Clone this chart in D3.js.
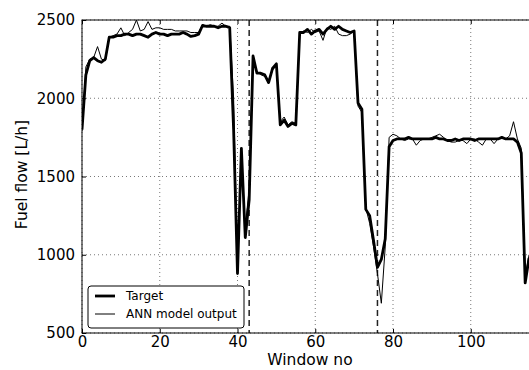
<!DOCTYPE html>
<html lang="en">
  <head>
    <meta charset="utf-8" />
    <title>Fuel flow</title>
    <script type="text/javascript" src="https://cdn.jsdelivr.net/npm/d3@7"></script>
    <style type="text/css">
      body { margin: 0; background: #fff; }
      text { font-family: "DejaVu Sans", sans-serif; }
    </style>
  </head>
  <body>
    <script type="text/javascript">
      // target fuel flow per window
      var target = [
        1800, 2150, 2240, 2260, 2240, 2230, 2250, 2390, 2390, 2400,
        2400, 2410, 2410, 2400, 2410, 2410, 2400, 2390, 2410, 2420,
        2410, 2410, 2400, 2410, 2410, 2410, 2420, 2410, 2395, 2400,
        2410, 2465, 2460, 2460, 2460, 2450, 2460, 2460, 2450, 1800,
        880, 1680, 1110, 1350, 2270, 2160, 2160, 2150, 2100, 2190,
        2220, 1830, 1860, 1820, 1840, 1830, 2420, 2420, 2440, 2410,
        2430, 2440, 2410, 2440, 2460, 2440, 2460, 2440, 2430, 2420,
        2430, 1970, 1930, 1290, 1250, 1090, 920, 970, 1100, 1690,
        1730, 1740, 1740, 1740, 1750, 1740, 1740, 1740, 1740, 1740,
        1740, 1750, 1740, 1740, 1730, 1730, 1740, 1730, 1740, 1740,
        1740, 1730, 1740, 1740, 1740, 1740, 1740, 1740, 1750, 1740,
        1740, 1740, 1720, 1650, 820, 980
      ];
      // ANN model output per window
      var annOutput = [
        1790, 2200, 2250, 2260, 2330, 2250, 2240, 2390, 2400, 2410,
        2450, 2400, 2420, 2440, 2500, 2430, 2440, 2490, 2440, 2450,
        2450, 2440, 2440, 2440, 2430, 2430, 2430, 2430, 2420, 2420,
        2420, 2470, 2460, 2470, 2460, 2460, 2480, 2460, 2460, 2000,
        920, 1620, 1180, 1420, 2250, 2170, 2150, 2140, 2110, 2180,
        2210, 1850, 1880, 1830, 1850, 1840, 2410, 2430, 2420, 2440,
        2420, 2430, 2370, 2450, 2440, 2460, 2410, 2400, 2400, 2410,
        2430, 1950, 1910, 1300, 1200, 1050, 880, 690, 1050, 1750,
        1770, 1760, 1740, 1730, 1740, 1740, 1700, 1730, 1740, 1740,
        1750, 1760, 1770, 1750, 1730, 1720, 1720, 1730, 1730, 1710,
        1740, 1740, 1720, 1700, 1740, 1740, 1710, 1740, 1750, 1740,
        1760, 1850, 1740, 1680, 860, 1000
      ];
      var splitWindows = [43, 76];
      var xTicks = [0, 20, 40, 60, 80, 100];
      var yTicks = [500, 1000, 1500, 2000, 2500];
      var legendLabels = ["Target", "ANN model output"];

      var w = 529;
      var h = 370;
      var margin = { top: 20, left: 82 };
      var plotW = 466.5; // right edge falls outside the window, as in the original
      var plotH = 313;

      var xScale = d3.scaleLinear().domain([0, 120]).range([0, plotW]);
      var yScale = d3.scaleLinear().domain([500, 2500]).range([plotH, 0]);

      var svg = d3
        .select("body")
        .append("svg")
        .attr("width", w)
        .attr("height", h);

      svg
        .append("defs")
        .append("clipPath")
        .attr("id", "plot-clip")
        .append("rect")
        .attr("width", plotW)
        .attr("height", plotH);

      var g = svg
        .append("g")
        .attr("transform", "translate(" + margin.left + "," + margin.top + ")");

      // dotted grid
      g.selectAll(".vgrid")
        .data(xTicks)
        .enter()
        .append("line")
        .attr("x1", function (d) { return xScale(d); })
        .attr("x2", function (d) { return xScale(d); })
        .attr("y1", 0)
        .attr("y2", plotH)
        .attr("stroke", "#555")
        .attr("stroke-width", 0.8)
        .attr("stroke-dasharray", "1,3");

      g.selectAll(".hgrid")
        .data(yTicks)
        .enter()
        .append("line")
        .attr("x1", 0)
        .attr("x2", plotW)
        .attr("y1", function (d) { return yScale(d); })
        .attr("y2", function (d) { return yScale(d); })
        .attr("stroke", "#555")
        .attr("stroke-width", 0.8)
        .attr("stroke-dasharray", "1,3");

      var plot = g.append("g").attr("clip-path", "url(#plot-clip)");

      // dashed split markers
      plot
        .selectAll(".split")
        .data(splitWindows)
        .enter()
        .append("line")
        .attr("x1", function (d) { return xScale(d); })
        .attr("x2", function (d) { return xScale(d); })
        .attr("y1", 0)
        .attr("y2", plotH)
        .attr("stroke", "#222")
        .attr("stroke-width", 1.5)
        .attr("stroke-dasharray", "6,4");

      var line = d3
        .line()
        .x(function (d, i) { return xScale(i); })
        .y(function (d) { return yScale(d); });

      plot
        .append("path")
        .datum(target)
        .attr("d", line)
        .attr("fill", "none")
        .attr("stroke", "#000")
        .attr("stroke-width", 2.8)
        .attr("stroke-linejoin", "round");

      plot
        .append("path")
        .datum(annOutput)
        .attr("d", line)
        .attr("fill", "none")
        .attr("stroke", "#000")
        .attr("stroke-width", 1)
        .attr("stroke-linejoin", "round");

      // frame
      g.append("rect")
        .attr("width", plotW)
        .attr("height", plotH)
        .attr("fill", "none")
        .attr("stroke", "#000")
        .attr("stroke-width", 1);

      // axes with inward ticks
      var xAxis = d3.axisBottom(xScale).tickValues(xTicks).tickFormat(d3.format("d"))
        .tickSizeInner(-4).tickSizeOuter(0).tickPadding(3);
      var xg = g.append("g").attr("transform", "translate(0," + plotH + ")").call(xAxis);
      var xTop = d3.axisTop(xScale).tickValues(xTicks).tickSizeInner(-4).tickSizeOuter(0).tickFormat("");
      g.append("g").call(xTop);

      var yAxis = d3.axisLeft(yScale).tickValues(yTicks).tickFormat(d3.format("d"))
        .tickSizeInner(-4).tickSizeOuter(0).tickPadding(7);
      var yg = g.append("g").call(yAxis);

      [xg, yg].forEach(function (a) {
        a.selectAll("text").attr("font-size", "15px").attr("fill", "#000").style("font-family", "DejaVu Sans, sans-serif");
        a.selectAll("line").attr("stroke", "#000");
      });
      g.selectAll(".domain").remove();

      svg
        .append("text")
        .attr("x", 310)
        .attr("y", 365)
        .attr("text-anchor", "middle")
        .attr("font-size", "15.5px")
        .text("Window no");

      svg
        .append("text")
        .attr("transform", "translate(27," + (margin.top + plotH / 2 - 2) + ") rotate(-90)")
        .attr("text-anchor", "middle")
        .attr("font-size", "15.5px")
        .text("Fuel flow [L/h]");

      // legend
      var legend = svg.append("g").attr("transform", "translate(88,286)");
      legend
        .append("rect")
        .attr("width", 156)
        .attr("height", 42)
        .attr("rx", 3)
        .attr("fill", "#fff")
        .attr("stroke", "#000")
        .attr("stroke-width", 1);

      var entries = legend
        .selectAll(".entry")
        .data(legendLabels)
        .enter()
        .append("g")
        .attr("transform", function (d, i) { return "translate(0," + (10 + i * 18) + ")"; });

      entries
        .append("line")
        .attr("x1", 7)
        .attr("x2", 27)
        .attr("stroke", "#000")
        .attr("stroke-width", function (d, i) { return i === 0 ? 2.8 : 1; });

      entries
        .append("text")
        .attr("x", 38)
        .attr("dy", "0.35em")
        .attr("font-size", "12px")
        .text(function (d) { return d; });
    </script>
  </body>
</html>
